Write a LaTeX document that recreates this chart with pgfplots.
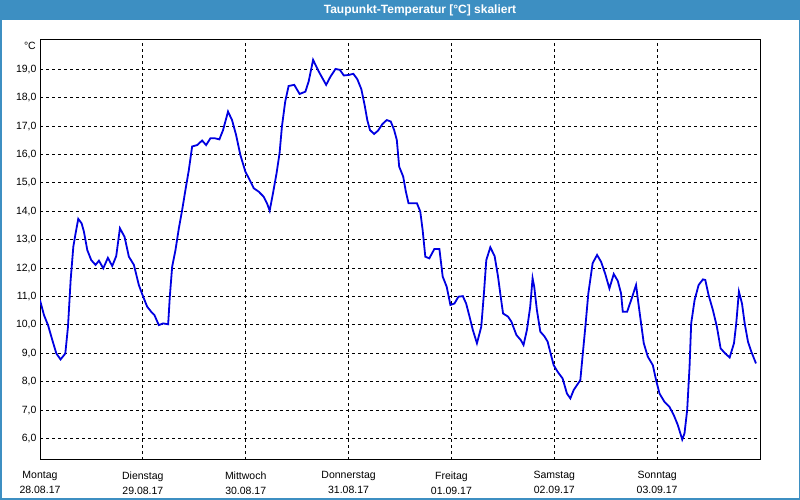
\documentclass[border=0pt]{standalone}
\usepackage{fontspec}
\setmainfont{Liberation Sans}
\usepackage{pgfplots}
\pgfplotsset{compat=1.18}
\definecolor{titleblue}{RGB}{61,143,194}
\definecolor{lineblue}{RGB}{0,0,225}
\begin{document}
\begin{tikzpicture}
\path[use as bounding box] (0pt,0pt) rectangle (800pt,500pt);
\fill[white] (0pt,0pt) rectangle (800pt,500pt);
\fill[titleblue] (0pt,480pt) rectangle (800pt,500pt);
\draw[titleblue, line width=1.5pt] (0.75pt,0.75pt) rectangle (799.25pt,499.25pt);
\node[text=white, font=\fontsize{12}{14}\selectfont\bfseries] at (420pt,490pt) {Taupunkt-Temperatur [°C] skaliert};
\begin{axis}[
  at={(40pt,40pt)}, anchor=south west,
  width=720pt, height=420pt, scale only axis,
  xmin=0, xmax=7, ymin=5.24, ymax=20.03,
  xtick={0,1,2,3,4,5,6},
  xticklabels={{Montag\\28.08.17},{Dienstag\\29.08.17},{Mittwoch\\30.08.17},{Donnerstag\\31.08.17},{Freitag\\01.09.17},{Samstag\\02.09.17},{Sonntag\\03.09.17}},
  xticklabel style={align=center, font=\fontsize{10.5}{15}\selectfont, yshift=-8pt},
  ytick={6,7,...,19},
  yticklabels={6{,}0,7{,}0,8{,}0,9{,}0,10{,}0,11{,}0,12{,}0,13{,}0,14{,}0,15{,}0,16{,}0,17{,}0,18{,}0,19{,}0},
  yticklabel style={font=\fontsize{10.5}{12}\selectfont},
  major tick length=0pt,
  grid=major,
  major grid style={black, line width=0.8pt, dash pattern=on 3pt off 3pt},
  axis line style={black, line width=1pt},
  clip=true,
]
\addplot[lineblue, line width=1.8pt] coordinates {
(0,10.87)(0.039,10.34)(0.078,9.99)(0.12,9.46)(0.159,8.99)(0.2,8.78)(0.246,8.99)(0.272,9.93)(0.298,11.58)(0.324,12.75)(0.346,13.22)(0.372,13.73)(0.405,13.57)(0.427,13.28)(0.46,12.63)(0.498,12.28)(0.54,12.11)(0.573,12.26)(0.615,11.99)(0.66,12.36)(0.702,12.07)(0.741,12.42)(0.777,13.40)(0.822,13.10)(0.864,12.40)(0.913,12.11)(0.961,11.40)(1.003,10.99)(1.042,10.64)(1.081,10.46)(1.113,10.34)(1.155,9.99)(1.197,10.05)(1.246,10.02)(1.262,10.99)(1.285,12.05)(1.317,12.63)(1.35,13.40)(1.382,14.04)(1.414,14.75)(1.447,15.45)(1.479,16.28)(1.528,16.33)(1.576,16.49)(1.615,16.33)(1.657,16.57)(1.699,16.57)(1.744,16.53)(1.78,16.86)(1.828,17.51)(1.867,17.21)(1.906,16.69)(1.948,15.98)(1.997,15.39)(2.039,15.10)(2.078,14.81)(2.126,14.69)(2.175,14.51)(2.207,14.28)(2.233,14.02)(2.265,14.63)(2.300,15.34)(2.329,16.04)(2.352,16.98)(2.384,17.86)(2.417,18.41)(2.472,18.45)(2.524,18.13)(2.58,18.21)(2.612,18.57)(2.655,19.33)(2.71,18.92)(2.782,18.45)(2.824,18.74)(2.873,19.01)(2.915,18.98)(2.954,18.78)(3.003,18.80)(3.046,18.84)(3.085,18.65)(3.124,18.30)(3.156,17.74)(3.182,17.21)(3.208,16.86)(3.248,16.72)(3.287,16.84)(3.329,17.07)(3.371,17.21)(3.41,17.16)(3.443,16.86)(3.469,16.51)(3.492,15.57)(3.531,15.22)(3.557,14.69)(3.583,14.28)(3.622,14.28)(3.665,14.28)(3.697,13.99)(3.72,13.34)(3.746,12.40)(3.785,12.34)(3.834,12.67)(3.883,12.67)(3.915,11.70)(3.954,11.34)(3.99,10.70)(4.029,10.75)(4.068,10.99)(4.111,11.01)(4.143,10.75)(4.176,10.29)(4.208,9.82)(4.248,9.35)(4.29,9.93)(4.316,11.11)(4.339,12.28)(4.378,12.73)(4.42,12.42)(4.453,11.70)(4.479,10.99)(4.502,10.40)(4.55,10.29)(4.583,10.11)(4.632,9.64)(4.675,9.46)(4.701,9.29)(4.734,9.82)(4.766,10.64)(4.789,11.64)(4.805,11.34)(4.831,10.52)(4.864,9.76)(4.903,9.60)(4.935,9.41)(4.968,8.94)(4.994,8.58)(5.032,8.35)(5.081,8.11)(5.123,7.58)(5.156,7.41)(5.188,7.70)(5.221,7.88)(5.253,8.05)(5.276,8.94)(5.302,9.93)(5.331,11.11)(5.373,12.17)(5.416,12.46)(5.455,12.22)(5.494,11.81)(5.536,11.28)(5.578,11.79)(5.617,11.55)(5.649,11.11)(5.666,10.46)(5.708,10.46)(5.747,10.87)(5.795,11.40)(5.818,10.75)(5.844,10.05)(5.87,9.35)(5.909,8.88)(5.958,8.58)(5.99,8.05)(6.023,7.58)(6.071,7.29)(6.12,7.11)(6.162,6.82)(6.201,6.47)(6.244,5.96)(6.266,6.18)(6.292,7.00)(6.315,8.52)(6.331,10.05)(6.364,10.87)(6.403,11.40)(6.445,11.60)(6.468,11.58)(6.5,11.05)(6.542,10.52)(6.581,9.93)(6.617,9.17)(6.662,8.99)(6.705,8.85)(6.747,9.35)(6.769,10.05)(6.795,11.17)(6.825,10.75)(6.851,10.05)(6.883,9.41)(6.916,9.05)(6.961,8.64)
};
\end{axis}
\node[anchor=east, font=\fontsize{10.5}{12}\selectfont, inner sep=0pt] at (36pt,454pt) {°C};
\end{tikzpicture}
\end{document}
